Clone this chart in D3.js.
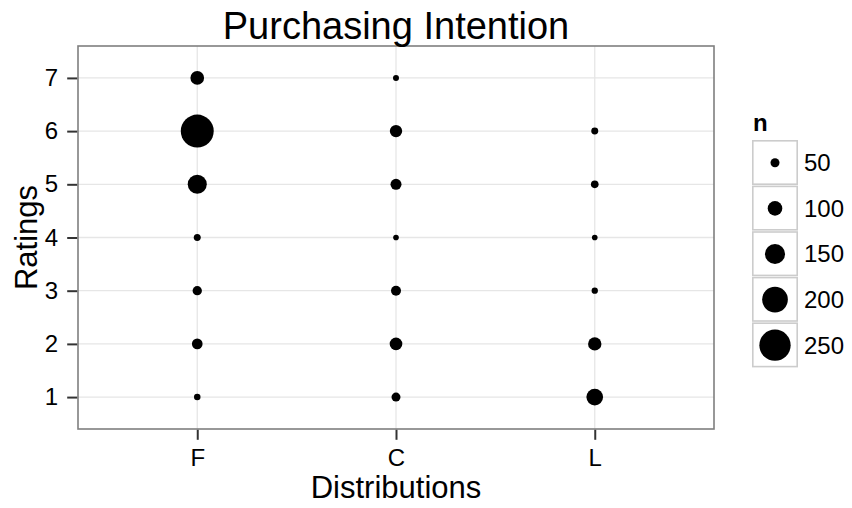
<!DOCTYPE html>
<html>
<head>
<meta charset="utf-8">
<script src="https://cdn.jsdelivr.net/npm/d3@7"></script>
<style>
  html, body { margin: 0; padding: 0; background: #fff; }
  svg { display: block; font-family: "Liberation Sans", Arial, Helvetica, sans-serif; }
</style>
</head>
<body>
<svg id="chart" width="852" height="508"></svg>
<script>
// ---- data ----
const distributions = ["F", "C", "L"];
const ratings = [1, 2, 3, 4, 5, 6, 7];
// counts per rating (1..7) for each distribution; null = no point
const countsF = [28, 65, 53, 32, 140, 265, 92];
const countsC = [50, 83, 59, 20, 68, 80, 23];
const countsL = [119, 89, 26, 20, 38, 32, null];
const legendBreaks = [50, 100, 150, 200, 250];
const titleText = "Purchasing Intention";
const xTitle = "Distributions";
const yTitle = "Ratings";
const legendTitle = "n";

const series = { F: countsF, C: countsC, L: countsL };
const points = [];
distributions.forEach(d => {
  series[d].forEach((n, i) => {
    if (n != null) points.push({ dist: d, rating: ratings[i], n: n });
  });
});

const svg = d3.select("#chart");
const panel = { left: 78, right: 714, top: 46, bottom: 429 };

const x = d3.scalePoint().domain(distributions)
  .range([panel.left, panel.right]).padding(0.6);
const y = d3.scaleLinear().domain([0.4, 7.6]).range([panel.bottom, panel.top]);
const diam = d3.scaleLinear().domain([50, 250]).range([9, 31.3]);

// panel background
svg.append("rect")
  .attr("x", panel.left).attr("y", panel.top)
  .attr("width", panel.right - panel.left).attr("height", panel.bottom - panel.top)
  .attr("fill", "#fff");

// grid
const grid = svg.append("g");
grid.selectAll("line.h").data(ratings).join("line")
  .attr("x1", panel.left).attr("x2", panel.right)
  .attr("y1", d => y(d)).attr("y2", d => y(d))
  .attr("stroke", "#e6e6e6").attr("stroke-width", 1.3);
grid.selectAll("line.v").data(distributions).join("line")
  .attr("y1", panel.top).attr("y2", panel.bottom)
  .attr("x1", d => x(d)).attr("x2", d => x(d))
  .attr("stroke", "#e6e6e6").attr("stroke-width", 1.3);

// points
svg.append("g").selectAll("circle").data(points).join("circle")
  .attr("cx", d => x(d.dist))
  .attr("cy", d => y(d.rating))
  .attr("r", d => diam(d.n) / 2)
  .attr("fill", "#000");

// panel border
svg.append("rect")
  .attr("x", panel.left).attr("y", panel.top)
  .attr("width", panel.right - panel.left).attr("height", panel.bottom - panel.top)
  .attr("fill", "none").attr("stroke", "#7f7f7f").attr("stroke-width", 1.6);

// axes
const xAxis = d3.axisBottom(x).tickSizeInner(10).tickSizeOuter(0).tickPadding(9);
const gx = svg.append("g").attr("transform", `translate(0,${panel.bottom + 0.8})`).call(xAxis);
const yAxis = d3.axisLeft(y).tickValues(ratings).tickFormat(d3.format("d"))
  .tickSizeInner(10).tickSizeOuter(0).tickPadding(9);
const gy = svg.append("g").attr("transform", `translate(${panel.left - 0.8},0)`).call(yAxis);
[gx, gy].forEach(g => {
  g.select(".domain").remove();
  g.selectAll(".tick line").attr("stroke", "#333").attr("stroke-width", 2);
  g.selectAll(".tick text").attr("fill", "#000").style("font-size", "24px")
    .style("font-family", "'Liberation Sans', Arial, Helvetica, sans-serif");
});

// titles
svg.append("text").attr("x", (panel.left + panel.right) / 2).attr("y", 39)
  .attr("text-anchor", "middle").style("font-size", "38px").text(titleText);
svg.append("text").attr("x", (panel.left + panel.right) / 2).attr("y", 498)
  .attr("text-anchor", "middle").style("font-size", "31px").text(xTitle);
svg.append("text")
  .attr("transform", `translate(37,${(panel.top + panel.bottom) / 2}) rotate(-90)`)
  .attr("text-anchor", "middle").style("font-size", "31px").text(yTitle);

// legend
const leg = svg.append("g");
leg.append("text").attr("x", 753).attr("y", 131)
  .style("font-size", "24px").style("font-weight", "bold").text(legendTitle);
const keyTop = 140, keyH = 45.6, keyW = 46, keyX = 752;
const keys = leg.selectAll("g.key").data(legendBreaks).join("g")
  .attr("transform", (d, i) => `translate(${keyX},${keyTop + i * keyH})`);
keys.append("rect").attr("x", 0.8).attr("y", 0.8)
  .attr("width", keyW - 1.6).attr("height", keyH - 2.2)
  .attr("fill", "#fff").attr("stroke", "#cccccc").attr("stroke-width", 1.6);
keys.append("circle").attr("cx", keyW / 2).attr("cy", keyH / 2)
  .attr("r", d => diam(d) / 2).attr("fill", "#000");
keys.append("text").attr("x", keyW + 6).attr("y", keyH / 2).attr("dy", "0.35em")
  .style("font-size", "24px").text(d => d);
</script>
</body>
</html>
